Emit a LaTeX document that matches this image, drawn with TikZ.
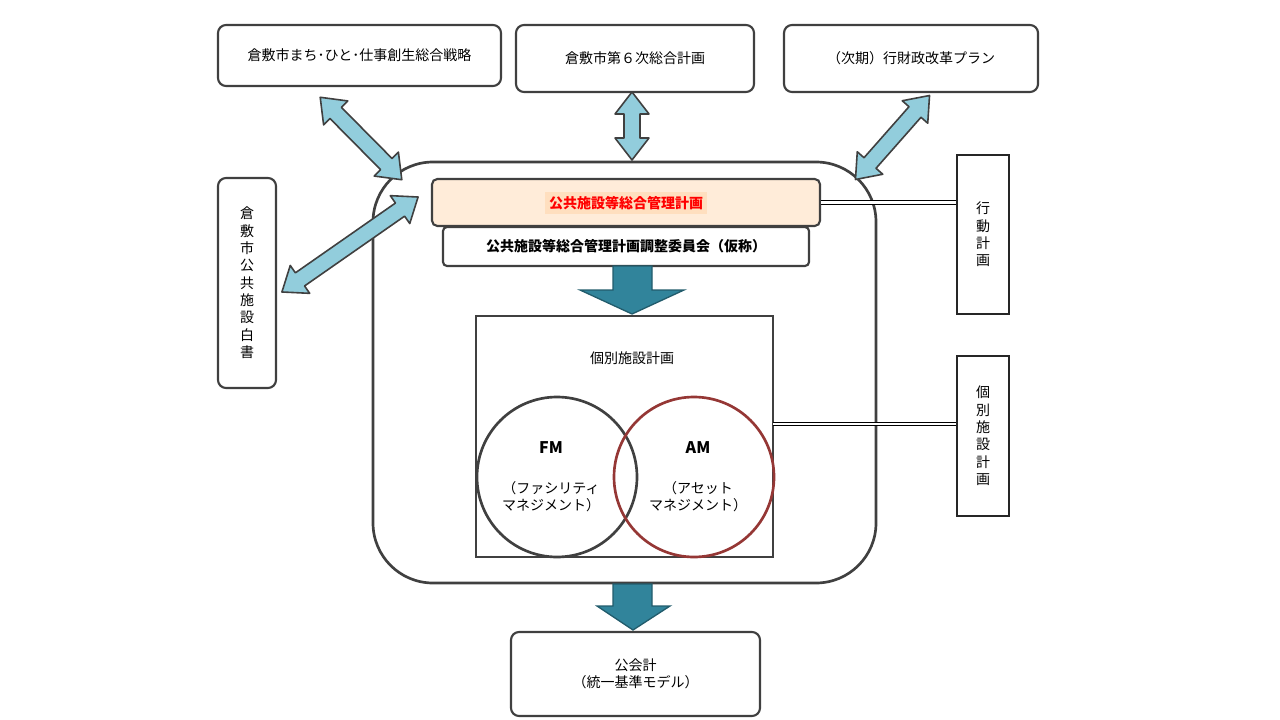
\documentclass[tikz,border=0pt]{standalone}
\usepackage{fontspec}
\setmainfont{Noto Sans CJK JP}
\begin{document}
\begin{tikzpicture}[x=0.75pt,y=-0.75pt,
  box/.style={draw=black!75,line width=1.6pt,rounded corners=6pt,fill=white},
  sq/.style={draw=black!85,line width=2pt},
  lbl/.style={font=\fontsize{10.5}{13}\selectfont,align=center},
  lb/.style={fill=cyan!25!blue!20!white,fill=lblue,draw=black!75,line width=1.2pt,line join=round},
  db/.style={fill=dblue,draw=dblue!70!black,line width=1pt},
  dl/.style={double=white,double distance=2pt,draw=black,line width=0.8pt}]
\definecolor{lblue}{HTML}{92CDDC}
\definecolor{dblue}{HTML}{31849B}
\definecolor{amred}{HTML}{953735}
\useasboundingbox (0,0) rectangle (1280,720);
\newcommand\dbl[4]{\begin{scope}[shift={(#1,#2)},rotate=#3]
\filldraw[lb] (-#4,0)--(-#4+22,17)--(-#4+22,8)--(#4-22,8)--(#4-22,17)--(#4,0)--(#4-22,-17)--(#4-22,-8)--(-#4+22,-8)--(-#4+22,-17)--cycle;
\end{scope}}
% top boxes
\node[box,lbl,minimum width=283*0.75pt,minimum height=61*0.75pt] (b1) at (359.5,55.5) {倉敷市まち･ひと･仕事創生総合戦略};
\node[box,lbl,minimum width=238*0.75pt,minimum height=67*0.75pt] (b2) at (635,58.5) {倉敷市第６次総合計画};
\node[box,lbl,minimum width=254*0.75pt,minimum height=67*0.75pt] (b3) at (911,58.5) {（次期）行財政改革プラン};
\node[box,lbl,minimum width=58*0.75pt,minimum height=210*0.75pt,inner sep=0pt] (wp) at (247,283) {倉\\敷\\市\\公\\共\\施\\設\\白\\書};
% big rounded
\draw[black!75,line width=2pt,rounded corners=45pt] (373,162) rectangle (876,583);
\coordinate (bigc) at (624,372);
% arrows light blue
\dbl{361}{138.5}{-45.3}{58}
\dbl{632}{126}{-90}{34}
\dbl{892.5}{137.5}{48.6}{56}
\dbl{350}{244.5}{34.9}{83}
% orange plan
\node[draw=black!75,line width=1.6pt,rounded corners=4pt,fill=orange!15!white,minimum width=388*0.75pt,minimum height=47*0.75pt] (plan) at (626,202.5) {};
\node[fill=orange!25!white,inner sep=3pt,font=\bfseries\fontsize{10.5}{13}\selectfont,text=red] (plant) at (626,203) {公共施設等総合管理計画};
\node[box,rounded corners=3pt,font=\bfseries\fontsize{10.5}{13}\selectfont,minimum width=366*0.75pt,minimum height=39*0.75pt] (cm) at (626,246.5) {公共施設等総合管理計画調整委員会（仮称）};
% dark arrows
\filldraw[db] (613,266)--(652,266)--(652,290)--(684,290)--(632,314)--(580,290)--(613,290)--cycle;
\filldraw[db] (613,584)--(652,584)--(652,606)--(670,606)--(633,630)--(597,606)--(613,606)--cycle;
% square
\node[draw=black!75,line width=1.6pt,minimum width=297*0.75pt,minimum height=241*0.75pt] (sq) at (624.5,436.5) {};
\node[lbl] (kt) at (632,358) {個別施設計画};
\draw[black!75,line width=2pt] (557,477) circle (80);
\draw[amred,line width=2pt] (694,477) circle (80);
\node[font=\bfseries\fontsize{12}{14}\selectfont] (fm) at (551,448) {FM};
\node[font=\bfseries\fontsize{12}{14}\selectfont] (am) at (698,448) {AM};
\node[lbl] (fmt) at (551,497) {（ファシリティ\\マネジメント）};
\node[lbl] (amt) at (698,497) {（アセット\\マネジメント）};
% right boxes
\node[sq,lbl,minimum width=52*0.75pt,minimum height=159*0.75pt,inner sep=0pt] (kd) at (983,234.5) {行\\動\\計\\画};
\node[sq,lbl,minimum width=52*0.75pt,minimum height=160*0.75pt,inner sep=0pt] (kb) at (983,436) {個\\別\\施\\設\\計\\画};
\draw[dl] (plan.east) -- (kd.west |- plan.east);
\draw[dl] (773,424) -- (kb.west |- 0,424);
% bottom
\node[box,lbl,minimum width=249*0.75pt,minimum height=84*0.75pt] (pa) at (635.5,674) {公会計\\（統一基準モデル）};
\end{tikzpicture}
\end{document}
